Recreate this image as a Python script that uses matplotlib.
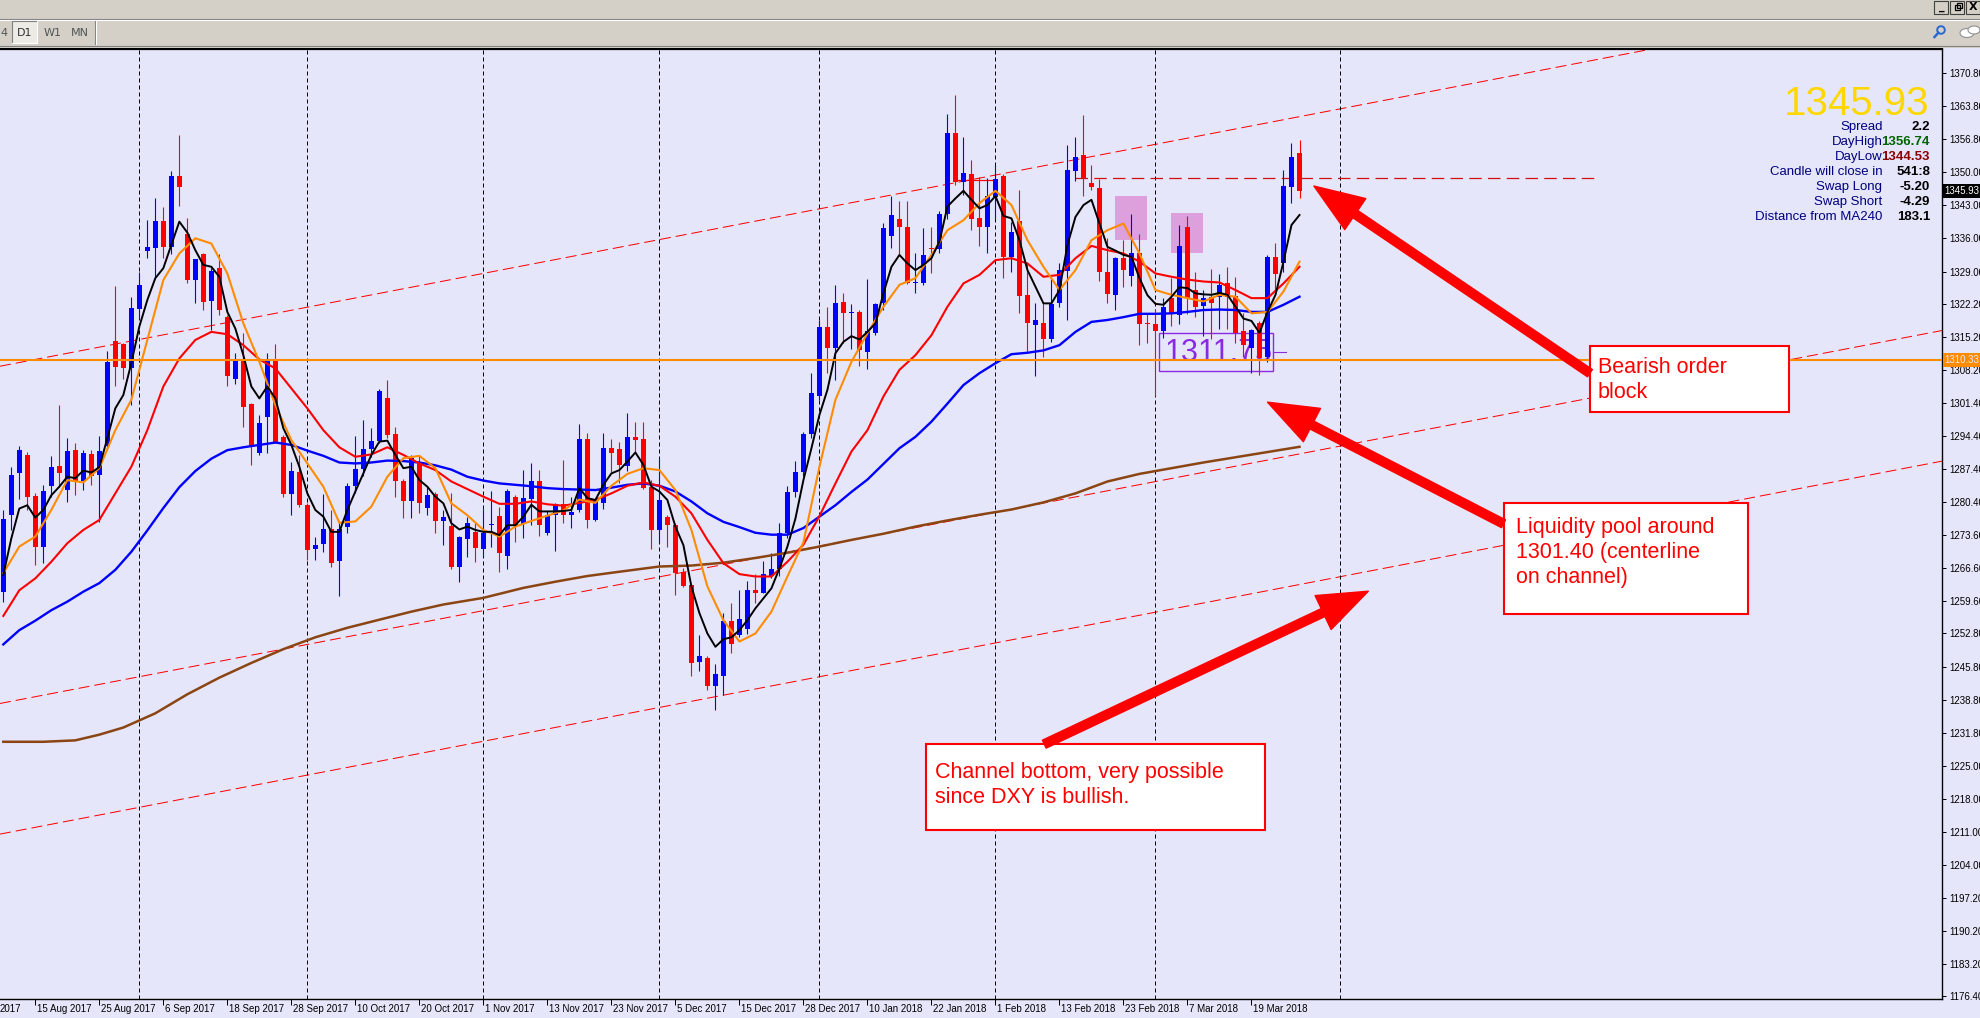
import numpy as np
import matplotlib.pyplot as plt
import matplotlib.transforms as mtransforms
from matplotlib import font_manager
from matplotlib.patches import Rectangle, Circle, Ellipse

# daily gold candles, 9 Aug 2017 .. 27 Mar 2018 (bar index = position)
opens = [1261.5, 1277.7, 1286.5, 1290.4, 1281.7, 1271.1, 1283.8, 1288.1, 1283.1, 1291.4,
         1284.8, 1290.6, 1286.2, 1292.3, 1314.4, 1313.7, 1308.6, 1321.2, 1333.4, 1333.9,
         1339.6, 1334.1, 1349.1, 1337.0, 1327.2, 1332.7, 1322.9, 1329.7, 1319.5, 1306.4,
         1310.5, 1301.1, 1290.9, 1298.3, 1310.4, 1294.2, 1282.2, 1286.9, 1279.9, 1270.6,
         1271.6, 1274.9, 1268.1, 1275.3, 1283.9, 1287.4, 1291.6, 1293.4, 1302.3, 1294.9,
         1285.0, 1280.6, 1289.0, 1279.2, 1282.2, 1276.4, 1275.4, 1266.9, 1272.6, 1274.2,
         1270.5, 1275.6, 1277.5, 1269.1, 1281.6, 1275.8, 1281.1, 1285.0, 1274.0, 1277.8,
         1280.1, 1277.8, 1278.8, 1293.7, 1276.6, 1280.2, 1291.8, 1291.6, 1288.0, 1294.1,
         1293.7, 1283.6, 1274.6, 1277.4, 1275.6, 1265.8, 1263.0, 1246.7, 1247.7, 1241.7,
         1243.9, 1255.5, 1252.5, 1253.7, 1262.0, 1261.4, 1264.8, 1266.3, 1274.0, 1282.6,
         1286.9, 1294.8, 1302.8, 1317.3, 1312.8, 1322.6, 1320.2, 1320.5, 1312.1, 1316.0,
         1322.3, 1336.5, 1340.1, 1338.4, 1326.5, 1326.6, 1333.9, 1333.7, 1341.2, 1358.1,
         1347.9, 1349.5, 1340.2, 1338.3, 1344.6, 1349.1, 1332.0, 1339.7, 1324.1, 1317.8,
         1318.2, 1314.9, 1322.4, 1329.2, 1350.2, 1353.5, 1347.7, 1346.5, 1329.0, 1324.1,
         1331.8, 1328.0, 1333.0, 1318.2, 1317.9, 1316.5, 1323.4, 1319.9, 1338.3, 1325.1,
         1321.7, 1323.7, 1323.6, 1326.5, 1323.8, 1316.5, 1313.0, 1318.1, 1311.1, 1332.1,
         1330.7, 1346.9, 1353.9]
highs = [1278.8, 1287.8, 1292.3, 1291.0, 1282.3, 1284.1, 1290.2, 1300.9, 1293.9, 1292.8,
         1291.4, 1291.4, 1294.4, 1312.3, 1325.9, 1313.9, 1323.7, 1329.0, 1339.8, 1344.4,
         1342.6, 1350.2, 1357.7, 1340.3, 1331.6, 1332.9, 1329.7, 1332.7, 1319.8, 1311.8,
         1316.1, 1301.4, 1298.8, 1311.8, 1313.8, 1294.5, 1289.0, 1290.4, 1280.2, 1273.2,
         1282.2, 1278.8, 1276.0, 1284.5, 1294.4, 1297.7, 1296.0, 1304.2, 1306.2, 1296.3,
         1285.3, 1290.4, 1290.4, 1283.7, 1282.5, 1278.8, 1282.4, 1273.4, 1277.3, 1276.1,
         1279.0, 1282.7, 1279.5, 1283.2, 1282.0, 1287.2, 1288.6, 1287.2, 1278.5, 1280.3,
         1289.3, 1281.6, 1297.0, 1295.1, 1281.3, 1295.0, 1293.7, 1293.2, 1299.3, 1297.4,
         1297.4, 1285.1, 1289.7, 1277.7, 1276.0, 1266.5, 1263.3, 1252.5, 1248.0, 1246.3,
         1257.1, 1259.3, 1261.9, 1263.9, 1265.3, 1268.0, 1269.7, 1276.0, 1283.9, 1289.2,
         1295.3, 1307.6, 1318.9, 1321.5, 1326.2, 1324.4, 1322.1, 1320.8, 1327.4, 1322.4,
         1339.3, 1344.9, 1343.9, 1343.9, 1333.0, 1338.1, 1338.3, 1341.8, 1362.2, 1366.2,
         1357.3, 1352.5, 1348.8, 1348.6, 1351.4, 1349.5, 1339.5, 1346.2, 1330.7, 1322.3,
         1322.3, 1327.9, 1330.9, 1355.6, 1357.3, 1362.0, 1351.4, 1348.4, 1336.0, 1332.1,
         1335.6, 1341.1, 1336.9, 1320.0, 1321.2, 1323.4, 1327.6, 1338.8, 1340.7, 1329.0,
         1325.1, 1329.5, 1328.5, 1330.0, 1327.9, 1320.2, 1317.0, 1318.5, 1332.4, 1335.1,
         1350.4, 1356.0, 1356.74]
lows = [1259.5, 1274.6, 1281.2, 1278.8, 1267.2, 1267.6, 1281.6, 1283.7, 1280.5, 1281.9,
        1283.0, 1284.1, 1276.3, 1291.4, 1304.9, 1306.3, 1301.0, 1319.0, 1331.8, 1327.9,
        1331.8, 1332.7, 1342.8, 1326.5, 1322.4, 1320.9, 1316.7, 1319.8, 1304.8, 1305.3,
        1296.2, 1288.3, 1290.4, 1290.7, 1292.8, 1281.6, 1277.7, 1279.5, 1268.3, 1268.3,
        1270.0, 1266.7, 1260.6, 1274.0, 1282.3, 1286.0, 1290.0, 1293.0, 1294.0, 1281.6,
        1277.1, 1277.1, 1278.1, 1277.8, 1273.9, 1271.4, 1266.3, 1263.7, 1269.0, 1267.9,
        1269.0, 1271.0, 1265.8, 1266.3, 1272.0, 1273.0, 1275.7, 1273.4, 1273.5, 1270.2,
        1276.0, 1275.1, 1278.3, 1275.1, 1276.4, 1279.0, 1286.9, 1284.4, 1287.1, 1291.0,
        1283.2, 1270.5, 1271.8, 1271.1, 1260.9, 1262.5, 1243.9, 1244.8, 1240.9, 1236.6,
        1239.9, 1248.6, 1252.1, 1252.7, 1259.2, 1261.3, 1264.5, 1265.0, 1273.0, 1281.5,
        1285.9, 1293.9, 1302.0, 1307.6, 1306.2, 1313.9, 1312.6, 1309.1, 1308.4, 1315.6,
        1321.0, 1334.0, 1332.7, 1326.4, 1324.4, 1326.1, 1328.6, 1333.0, 1340.0, 1347.2,
        1345.1, 1337.7, 1334.4, 1332.8, 1340.0, 1327.6, 1329.0, 1320.3, 1312.1, 1307.0,
        1311.1, 1314.2, 1321.6, 1318.8, 1348.0, 1344.8, 1346.2, 1327.0, 1322.4, 1320.9,
        1325.8, 1326.0, 1313.5, 1314.0, 1302.7, 1315.0, 1317.6, 1318.0, 1320.0, 1319.4,
        1315.4, 1314.9, 1317.0, 1317.0, 1314.0, 1311.0, 1307.6, 1307.2, 1310.0, 1325.0,
        1329.0, 1343.5, 1344.53]
closes = [1277.0, 1286.2, 1291.4, 1281.6, 1271.1, 1282.8, 1287.9, 1286.5, 1291.3, 1284.8,
          1290.7, 1286.0, 1291.3, 1310.0, 1309.0, 1308.6, 1321.4, 1326.2, 1334.2, 1339.6,
          1334.1, 1349.1, 1346.9, 1327.2, 1331.6, 1322.6, 1329.2, 1320.9, 1307.1, 1310.5,
          1300.5, 1292.0, 1297.2, 1310.4, 1293.2, 1282.2, 1287.1, 1279.9, 1270.4, 1271.4,
          1274.8, 1267.7, 1274.8, 1283.9, 1287.4, 1291.6, 1293.4, 1303.9, 1294.6, 1284.8,
          1280.6, 1289.7, 1280.2, 1282.0, 1276.4, 1277.3, 1266.7, 1273.1, 1276.1, 1270.7,
          1274.0, 1275.9, 1269.7, 1282.9, 1275.4, 1281.3, 1285.0, 1275.7, 1277.7, 1280.1,
          1277.8, 1278.4, 1293.7, 1276.6, 1280.9, 1291.8, 1290.9, 1288.3, 1294.1, 1293.5,
          1283.4, 1274.6, 1280.9, 1275.6, 1265.5, 1262.8, 1246.5, 1248.1, 1241.7, 1244.3,
          1255.5, 1250.6, 1255.9, 1262.0, 1261.4, 1265.3, 1266.3, 1274.0, 1282.5, 1286.9,
          1294.8, 1303.4, 1317.3, 1312.8, 1322.3, 1320.3, 1320.5, 1312.5, 1316.5, 1322.1,
          1338.1, 1340.9, 1338.3, 1326.6, 1326.8, 1332.5, 1333.7, 1341.1, 1358.1, 1347.9,
          1349.8, 1340.0, 1338.3, 1344.8, 1348.4, 1332.0, 1337.4, 1323.8, 1318.2, 1318.7,
          1314.9, 1322.2, 1329.3, 1350.4, 1353.2, 1348.6, 1346.7, 1328.8, 1324.3, 1331.8,
          1329.3, 1333.0, 1317.9, 1318.0, 1316.5, 1321.6, 1320.2, 1334.4, 1323.4, 1321.6,
          1323.4, 1322.4, 1326.2, 1323.7, 1316.0, 1313.5, 1316.7, 1310.7, 1332.1, 1328.5,
          1347.0, 1353.2, 1345.93]

# moving averages
ma_black = [1265.1, 1272.8, 1279.1, 1279.8, 1277.2, 1278.8, 1281.9, 1283.7, 1285.8, 1285.5,
            1287.1, 1286.7, 1287.8, 1293.9, 1300.2, 1303.0, 1309.7, 1317.4, 1323.0, 1327.6,
            1329.7, 1334.6, 1339.5, 1337.2, 1333.5, 1330.4, 1330.0, 1327.9, 1320.5, 1317.0,
            1311.4, 1304.8, 1302.3, 1304.8, 1302.3, 1296.0, 1292.5, 1287.9, 1282.3, 1278.8,
            1277.4, 1274.2, 1274.2, 1278.8, 1282.7, 1286.5, 1290.4, 1293.2, 1293.4, 1290.4,
            1287.6, 1287.9, 1285.1, 1283.7, 1281.6, 1280.2, 1276.0, 1274.7, 1275.3, 1274.6,
            1274.2, 1274.2, 1273.5, 1275.6, 1275.6, 1277.4, 1279.9, 1278.5, 1278.5, 1278.5,
            1278.6, 1278.8, 1283.4, 1281.3, 1280.9, 1284.1, 1286.5, 1287.2, 1289.0, 1290.9,
            1288.3, 1283.7, 1282.7, 1280.9, 1275.3, 1271.4, 1262.7, 1257.1, 1252.8, 1250.0,
            1251.6, 1252.0, 1253.5, 1255.6, 1258.1, 1260.2, 1262.3, 1266.5, 1271.1, 1277.0,
            1285.1, 1291.8, 1298.8, 1304.1, 1311.8, 1314.2, 1315.4, 1314.7, 1316.3, 1318.1,
            1324.4, 1330.0, 1332.5, 1330.7, 1329.3, 1330.4, 1331.8, 1335.3, 1342.7, 1344.4,
            1346.0, 1344.1, 1342.3, 1343.0, 1344.9, 1340.7, 1340.2, 1335.6, 1329.3, 1325.8,
            1322.3, 1322.3, 1325.1, 1334.6, 1340.5, 1343.0, 1344.1, 1339.1, 1334.2, 1333.4,
            1332.5, 1332.1, 1327.6, 1324.0, 1322.2, 1322.0, 1323.7, 1325.7, 1325.5, 1324.4,
            1324.2, 1324.1, 1324.5, 1324.1, 1321.6, 1319.1, 1318.6, 1316.1, 1320.5, 1324.1,
            1331.1, 1338.8, 1340.9]
ma_orange = [1265.5, 1271.1, 1273.2, 1278.8, 1285.1, 1284.6, 1287.6, 1295.6, 1302.0, 1314.6,
             1327.2, 1332.8, 1336.0, 1334.9, 1328.6, 1318.1, 1310.0, 1300.9, 1293.5, 1288.6,
             1283.7, 1276.1, 1276.4, 1279.5, 1285.8, 1289.7, 1290.2, 1287.6, 1280.2, 1277.7,
             1274.6, 1273.2, 1275.3, 1276.5, 1277.6, 1278.7, 1281.0, 1280.3, 1283.9, 1286.4,
             1287.6, 1287.2, 1283.0, 1274.6, 1262.7, 1255.6, 1251.1, 1252.8, 1257.4, 1264.8,
             1272.0, 1287.9, 1302.0, 1310.0, 1316.0, 1321.6, 1326.2, 1327.6, 1332.5, 1337.7,
             1339.8, 1343.4, 1346.0, 1343.0, 1335.6, 1330.0, 1325.1, 1329.3, 1335.6, 1337.7,
             1339.1, 1332.8, 1325.1, 1324.1, 1323.4, 1322.7, 1324.1, 1323.7, 1320.2, 1320.5,
             1324.8, 1331.1]
ma_red = [1256.5, 1261.9, 1264.4, 1267.9, 1271.8, 1274.6, 1276.7, 1282.3, 1287.9, 1295.6,
          1304.8, 1310.7, 1314.6, 1316.3, 1315.8, 1313.5, 1310.5, 1308.6, 1304.4, 1300.2,
          1295.6, 1292.0, 1290.0, 1290.5, 1292.0, 1290.4, 1288.6, 1287.2, 1284.8, 1283.2,
          1281.6, 1280.1, 1280.1, 1280.6, 1280.0, 1279.7, 1280.3, 1280.9, 1282.3, 1283.9,
          1284.6, 1283.9, 1281.6, 1278.1, 1272.5, 1267.6, 1265.3, 1264.8, 1264.8, 1267.9,
          1271.5, 1277.5, 1284.4, 1291.1, 1295.6, 1302.7, 1308.3, 1311.4, 1315.6, 1321.6,
          1326.5, 1328.3, 1331.4, 1331.8, 1330.7, 1327.9, 1328.3, 1331.8, 1334.4, 1333.5,
          1332.8, 1331.1, 1328.6, 1327.9, 1327.3, 1326.9, 1326.7, 1325.1, 1323.4, 1323.4,
          1326.5, 1330.0]
ma_blue = [1250.5, 1253.5, 1255.5, 1257.7, 1259.5, 1261.6, 1263.4, 1266.2, 1270.0, 1274.5,
           1279.2, 1283.6, 1287.0, 1289.6, 1291.4, 1292.0, 1292.5, 1293.0, 1292.5, 1291.3,
           1290.2, 1288.8, 1288.6, 1288.8, 1289.2, 1289.1, 1288.8, 1288.2, 1287.3, 1285.8,
           1285.0, 1284.4, 1284.1, 1283.8, 1283.4, 1283.2, 1283.1, 1283.0, 1283.5, 1284.1,
           1284.4, 1283.9, 1282.7, 1280.6, 1278.1, 1276.3, 1275.2, 1274.0, 1273.6, 1273.6,
           1275.0, 1277.4, 1279.8, 1282.6, 1285.2, 1288.5, 1291.8, 1294.2, 1297.4, 1301.2,
           1305.1, 1307.6, 1309.7, 1311.6, 1311.9, 1312.4, 1313.5, 1316.3, 1318.4, 1318.8,
           1319.4, 1320.1, 1320.1, 1320.2, 1320.5, 1320.9, 1321.0, 1320.9, 1320.5, 1320.5,
           1322.0, 1323.7]
ma240_bars = [0, 5, 9, 12, 15, 19, 23, 27, 31, 35, 39, 43, 47, 51, 55, 60, 65, 69, 73, 77,
              82, 86, 90, 94, 98, 102, 106, 110, 114, 118, 122, 126, 130, 134, 138, 142,
              146, 150, 154, 158, 162]
ma240 = [1230.0, 1230.0, 1230.3, 1231.5, 1233.0, 1236.0, 1240.0, 1243.5, 1246.6, 1249.5,
         1252.0, 1254.0, 1255.7, 1257.4, 1258.9, 1260.3, 1262.4, 1263.7, 1264.9, 1265.8,
         1266.9, 1267.1, 1267.7, 1268.7, 1269.8, 1271.1, 1272.5, 1273.8, 1275.3, 1276.6,
         1277.8, 1278.9, 1280.4, 1282.3, 1284.8, 1286.4, 1287.6, 1288.8, 1289.9, 1291.0,
         1292.1]

# channel trend lines: price at bar 0 and at bar 200
channel_bars = [0, 200]
channel_upper = [1309.2, 1373.9]
channel_mid = [1238.2, 1302.9]
channel_low = [1210.7, 1275.4]

month_sep_bars = [17, 38, 60, 82, 102, 124, 144, 167]
date_bars = [4, 12, 20, 28, 36, 44, 52, 60, 68, 76, 84, 92, 100, 108, 116, 124, 132, 140, 148, 156]
date_labels = ['15 Aug 2017', '25 Aug 2017', '6 Sep 2017', '18 Sep 2017', '28 Sep 2017',
               '10 Oct 2017', '20 Oct 2017', '1 Nov 2017', '13 Nov 2017', '23 Nov 2017', '5 Dec 2017',
               '15 Dec 2017', '28 Dec 2017', '10 Jan 2018', '22 Jan 2018', '1 Feb 2018', '13 Feb 2018',
               '23 Feb 2018', '7 Mar 2018', '19 Mar 2018']
price_ticks = [1370.80, 1363.80, 1356.80, 1350.00, 1343.00, 1336.00, 1329.00, 1322.20, 1315.20,
               1308.20, 1301.40, 1294.40, 1287.40, 1280.40, 1273.60, 1266.60, 1259.60, 1252.80,
               1245.80, 1238.80, 1231.80, 1225.00, 1218.00, 1211.00, 1204.00, 1197.20, 1190.20,
               1183.20, 1176.40]

last_price = 1345.93
hline_price = 1310.33
order_block_price = 1348.7
marked_low = 1311.75

info_labels = ['Spread', 'DayHigh', 'DayLow', 'Candle will close in', 'Swap Long', 'Swap Short',
               'Distance from MA240']
info_values = ['2.2', '1356.74', '1344.53', '541:8', '-5.20', '-4.29', '183.1']
info_colors = ['black', '#006400', '#8b0000', 'black', 'black', 'black', 'black']

BG = '#e6e6fa'
W, H = 1981, 1018

names = {f.name for f in font_manager.fontManager.ttflist}
axis_font = 'Liberation Sans'
for cand in ['Liberation Sans Narrow', 'DejaVu Sans Condensed']:
    if cand in names:
        axis_font = cand
        break
plt.rcParams['font.family'] = ['Liberation Sans', 'DejaVu Sans']

fig = plt.figure(figsize=(W / 100, H / 100), dpi=100, facecolor=BG)
ax = fig.add_axes([0, 19 / H, 1942 / W, 950 / H])
ax.set_facecolor(BG)
ax.set_xlim(-0.4125, 242.3)
ax.set_ylim(1175.85, 1375.85)

# candles
x = np.arange(len(closes))
o, hi, lo, c = np.array(opens), np.array(highs), np.array(lows), np.array(closes)
col = np.where(c >= o, '#0000ff', '#ff0000')
ax.vlines(x, lo, hi, colors=col, lw=0.8, zorder=3)
ax.bar(x, np.maximum(np.abs(c - o), 0.25), bottom=np.minimum(o, c), width=0.62,
       color=col, linewidth=0, zorder=3)

# moving averages
x2 = np.arange(0, len(closes), 2)
ax.plot(ma240_bars, ma240, color='#8b4513', lw=1.8, zorder=4)
ax.plot(x2, ma_blue, color='#0000ff', lw=1.7, zorder=4)
ax.plot(x2, ma_red, color='#ff0000', lw=1.5, zorder=4)
ax.plot(x2, ma_orange, color='#ff8c00', lw=1.5, zorder=4)
ax.plot(x, ma_black, color='black', lw=1.4, zorder=4)

# channel + separators + horizontal levels
for ys in [channel_upper, channel_mid, channel_low]:
    ax.axline((channel_bars[0], ys[0]), (channel_bars[1], ys[1]), color='#ff0000',
              lw=0.72, dashes=(11, 5), zorder=2)
for b in month_sep_bars:
    ax.axvline(b, color='black', lw=0.72, dashes=(4, 3), zorder=2)
ax.axhline(hline_price, color='#ff8c00', lw=1.5, zorder=6)
ax.plot([134, 199], [order_block_price, order_block_price], color='#d01010', lw=0.9,
        dashes=(10, 5), zorder=2)
ax.plot([119, 123.8], [1348.3, 1348.3], color='#ff0000', lw=0.9, zorder=2)

# pink order-block boxes
ax.add_patch(Rectangle((138.95, 1335.6), 3.95, 9.3, fc='#dda0dd', ec='none', zorder=1.5))
ax.add_patch(Rectangle((145.97, 1333.0), 3.93, 8.3, fc='#dda0dd', ec='none', zorder=1.5))

# purple price label
ax.add_patch(Rectangle((144.5, 1308.1), 14.2, 7.9, fill=False, ec='#8a2be2', lw=1, zorder=2.5))
ax.text(145.1, marked_low, '1311.75', color='#8a2be2', fontsize=22, ha='left', va='center', zorder=2.5)
ax.plot([158.7, 160.3], [1312.0, 1312.0], color='#8a2be2', lw=0.8, zorder=2.5)

# annotation boxes and arrows
def note(x0, x1, y0, y1, tx, ty, txt, tail, head):
    ax.add_patch(Rectangle((x0, y0), x1 - x0, y1 - y0, fc='white', ec='#ff0000', lw=1.5, zorder=8))
    ax.text(tx, ty, txt, color='#ff0000', fontsize=15.5, ha='left', va='center',
            linespacing=1.25, zorder=9)
    ax.annotate('', xy=head, xytext=tail, zorder=9,
                arrowprops=dict(arrowstyle='simple,head_width=1.5,head_length=2.0,tail_width=0.35',
                                color='#ff0000', shrinkA=0, shrinkB=0, mutation_scale=18))

note(198.3, 223.2, 1299.4, 1313.3, 199.3, 1306.2, 'Bearish order\nblock',
     (198.3, 1307.6), (163.8, 1347.0))
note(187.5, 218.0, 1256.9, 1280.3, 189.1, 1269.8, 'Liquidity pool around\n1301.40 (centerline\non channel)',
     (187.5, 1275.9), (158.0, 1301.5))
note(115.3, 157.7, 1211.4, 1229.5, 116.5, 1221.0, 'Channel bottom, very possible\nsince DXY is bullish.',
     (130.1, 1229.5), (170.6, 1261.7))

# axes styling
ax.spines['left'].set_visible(False)
ax.spines['top'].set_linewidth(1.6)
ax.spines['right'].set_linewidth(1.0)
ax.spines['bottom'].set_linewidth(1.0)
ax.yaxis.tick_right()
ax.set_yticks(price_ticks)
ax.set_yticklabels(['%.2f' % p for p in price_ticks], fontsize=7, family=axis_font)
ax.tick_params(axis='y', direction='out', length=3, width=0.72, pad=2)
ax.set_xticks(date_bars)
ax.set_xticklabels([])
ax.tick_params(axis='x', direction='out', length=4, width=0.72)
blend = mtransforms.blended_transform_factory(ax.transData, ax.transAxes)
for b, lab in zip(date_bars, date_labels):
    ax.text(b + 0.15, -0.0055, lab, transform=blend, ha='left', va='top', fontsize=7,
            family=axis_font, clip_on=False)
# tail of the previous date label, cut by the left edge
ax.text(0.0, -0.0055, '2017', transform=ax.transAxes, ha='left', va='top', fontsize=7,
        family=axis_font, clip_on=False)

yblend = mtransforms.blended_transform_factory(ax.transAxes, ax.transData)
ax.text(1.0012, last_price, '%.2f' % last_price, transform=yblend, ha='left', va='center',
        fontsize=7, family=axis_font, color='white', clip_on=False, zorder=10,
        bbox=dict(boxstyle='square,pad=0.18', fc='black', ec='none'))
ax.text(1.0012, hline_price, '%.2f' % hline_price, transform=yblend, ha='left', va='center',
        fontsize=7, family=axis_font, color=BG, clip_on=False, zorder=10,
        bbox=dict(boxstyle='square,pad=0.18', fc='#ff8c00', ec='none'))

# overlay in pixel coords: toolbar and info panel
hud = fig.add_axes([0, 0, 1, 1], zorder=20)
hud.set_xlim(0, W)
hud.set_ylim(H, 0)
hud.axis('off')
hud.patch.set_alpha(0)
hud.add_patch(Rectangle((0, 0), W, 47.5, fc='#d4d0c8', ec='none'))
hud.plot([0, W], [18.5, 18.5], color='#808080', lw=0.8)
hud.plot([0, W], [19.5, 19.5], color='white', lw=0.8)
hud.plot([0, W], [45.5, 45.5], color='#808080', lw=0.8)
hud.plot([95, 95], [21, 44], color='#808080', lw=0.8)
hud.plot([96, 96], [21, 44], color='white', lw=0.8)
hud.add_patch(Rectangle((12, 21), 25.5, 22, fc='#ecebe6', ec='none'))
hud.plot([12, 12, 37.5], [43, 21, 21], color='#808080', lw=0.8)
hud.plot([12, 37.5, 37.5], [43, 43, 21], color='white', lw=0.8)
for tx, lab, cl in [(24.7, 'D1', '#333333'), (53, 'W1', '#555555'), (80, 'MN', '#555555')]:
    hud.text(tx, 33, lab, ha='center', va='center', fontsize=8, color=cl, family='DejaVu Sans')
hud.text(0.5, 33, '4', ha='left', va='center', fontsize=8, color='#555555', family='DejaVu Sans')
for bx, sym in [(1934.5, '_'), (1950.5, ''), (1966.5, 'X')]:
    hud.add_patch(Rectangle((bx, 0.5), 14, 13, fc='#d4d0c8', ec='#404040', lw=0.8))
    if sym:
        hud.text(bx + 7, 7, sym, ha='center', va='center', fontsize=8, fontweight='bold',
                 family='DejaVu Sans')
hud.add_patch(Rectangle((1955, 4.5), 5, 5, fill=False, ec='black', lw=0.9))
hud.add_patch(Rectangle((1957, 2.5), 5, 5, fill=False, ec='black', lw=0.9))
hud.add_patch(Circle((1941, 30), 3.8, fill=False, ec='#2a6ad0', lw=1.4))
hud.plot([1938.3, 1934.5], [32.8, 37], color='#2a6ad0', lw=1.8)
hud.add_patch(Ellipse((1967, 33), 14, 9, fc='white', ec='#909090', lw=0.8))
hud.add_patch(Ellipse((1974, 30), 12, 8, fc='white', ec='#909090', lw=0.8))

hud.text(1930, 114.5, '%.2f' % last_price, ha='right', va='baseline', fontsize=29, color='#ffd700')
for i, (lab, val, vc) in enumerate(zip(info_labels, info_values, info_colors)):
    yb = 130 + 15 * i
    hud.text(1882.5, yb, lab, ha='right', va='baseline', fontsize=9.5, color='#000080')
    hud.text(1930, yb, val, ha='right', va='baseline', fontsize=9.5, color=vc, fontweight='bold')

fig.savefig('out.png', dpi=100, facecolor=BG)
